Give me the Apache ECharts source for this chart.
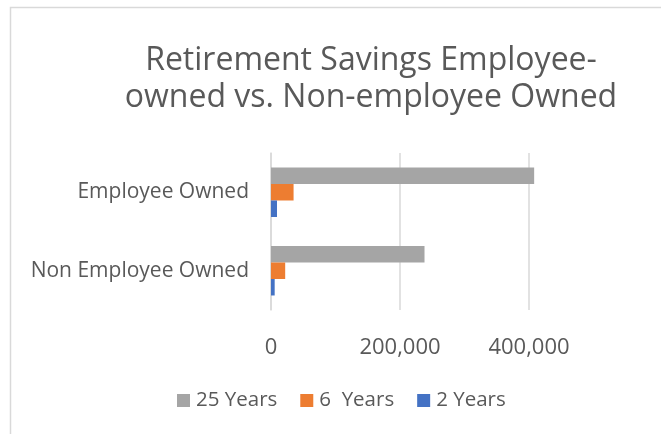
<!DOCTYPE html>
<html>
<head>
<meta charset="utf-8">
<script src="https://cdn.jsdelivr.net/npm/echarts@6/dist/echarts.min.js"></script>
<style>
  html, body { margin: 0; padding: 0; background: #fff; }
  #main { width: 661px; height: 434px; }
</style>
</head>
<body>
<div id="main"></div>
<script>
// Retirement savings chart data
var categories = ['Employee Owned', 'Non Employee Owned'];
var seriesNames = ['25 Years', '6  Years', '2 Years'];
var years25 = [408000, 238000];
var years6 = [35000, 22000];
var years2 = [9300, 5700];
var xTicks = { min: 0, max: 400000, interval: 200000 };

var colors = ['#a5a5a5', '#ed7d31', '#4472c4'];
var font = '"Open Sans", sans-serif';

var chart = echarts.init(document.getElementById('main'));
chart.setOption({
  animation: false,
  color: colors,
  graphic: [{
    type: 'rect', silent: true,
    shape: { x: 10.5, y: 7.5, width: 900, height: 600 },
    style: { fill: 'none', stroke: '#d9d9d9', lineWidth: 1.5 }
  }],
  title: {
    text: 'Retirement Savings Employee-\nowned vs. Non-employee Owned',
    left: 366, top: 37, textAlign: 'center',
    textStyle: { fontFamily: font, fontSize: 32, fontWeight: 'normal', color: '#595959', lineHeight: 37 }
  },
  legend: {
    data: seriesNames,
    top: 385, left: 172,
    itemWidth: 13, itemHeight: 13, itemGap: 23,
    icon: 'rect',
    textStyle: { fontFamily: font, fontSize: 20.5, color: '#595959', padding: [0, 0, 0, 1] }
  },
  grid: { left: 271, right: 132, top: 153, bottom: 124, containLabel: false },
  xAxis: {
    type: 'value', min: xTicks.min, max: xTicks.max, interval: xTicks.interval,
    axisLine: { show: false }, axisTick: { show: false },
    splitLine: { lineStyle: { color: '#d9d9d9', width: 1.5 } },
    axisLabel: {
      fontFamily: font, fontSize: 22, color: '#595959', margin: 27,
      formatter: function (v) { return v.toLocaleString('en-US'); }
    }
  },
  yAxis: {
    type: 'category', data: categories, inverse: true,
    axisLine: { show: true, lineStyle: { color: '#d9d9d9', width: 1.5 } },
    axisTick: { show: false },
    axisLabel: { fontFamily: font, fontSize: 21, color: '#595959', margin: 22, padding: [4, 0, 0, 0] }
  },
  series: [
    { name: seriesNames[0], type: 'bar', data: years25, barGap: '0%', barCategoryGap: '37%', clip: false },
    { name: seriesNames[1], type: 'bar', data: years6, clip: false },
    { name: seriesNames[2], type: 'bar', data: years2, clip: false }
  ]
});
</script>
</body>
</html>
